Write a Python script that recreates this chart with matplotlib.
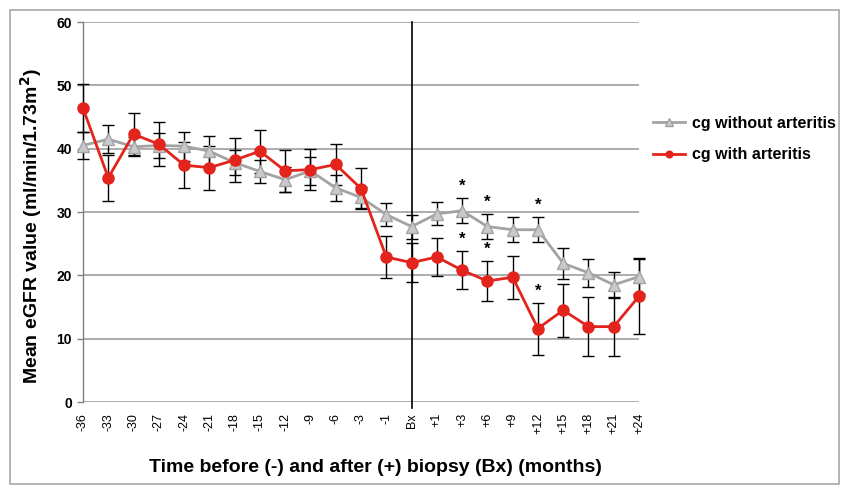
import matplotlib.pyplot as plt
import matplotlib.patches as patches
import numpy as np

plt.rcParams['font.family'] = ['Liberation Sans', 'DejaVu Sans']

# months relative to biopsy (Bx)
months = ['-36', '-33', '-30', '-27', '-24', '-21', '-18', '-15', '-12', '-9', '-6', '-3', '-1',
          'Bx', '+1', '+3', '+6', '+9', '+12', '+15', '+18', '+21', '+24']

# cg without arteritis
without_mean = [40.5, 41.5, 40.3, 40.5, 40.4, 39.6, 37.8, 36.4, 35.1, 36.5, 33.8, 32.3, 29.6,
                27.7, 29.7, 30.2, 27.7, 27.2, 27.2, 21.9, 20.4, 18.5, 19.8]
without_err = [2.1, 2.2, 1.5, 2.0, 2.3, 2.4, 2.0, 1.8, 2.0, 2.2, 2.0, 1.7, 1.8,
               1.9, 1.8, 2.0, 2.0, 2.0, 2.0, 2.4, 2.2, 2.1, 2.8]

# cg with arteritis
with_mean = [46.4, 35.4, 42.3, 40.7, 37.4, 37.0, 38.2, 39.6, 36.5, 36.7, 37.5, 33.7, 22.9,
             22.0, 22.9, 20.8, 19.1, 19.7, 11.6, 14.5, 11.9, 11.9, 16.7]
with_err = [3.8, 3.6, 3.3, 3.5, 3.6, 3.5, 3.5, 3.4, 3.3, 3.2, 3.2, 3.3, 3.3,
            3.1, 3.0, 3.0, 3.2, 3.4, 4.1, 4.2, 4.7, 4.7, 6.0]

# time points marked with *
significant = ['+3', '+6', '+12']

grey = '#A3A3A3'
red = '#E3241C'

fig = plt.figure(figsize=(8.41, 4.86), dpi=100)
ax = fig.add_axes([83 / 841, 1 - 402 / 486, 556 / 841, 380 / 486])

x = np.arange(len(months))

for mean, err in [(without_mean, without_err), (with_mean, with_err)]:
    eb = ax.errorbar(x, mean, yerr=err, fmt='none', ecolor='black',
                     elinewidth=1.0, capsize=4, capthick=1.0, zorder=3)
    for art in eb.lines[1] + eb.lines[2]:
        art.set_clip_on(False)

ax.plot(x, without_mean, color=grey, lw=2, marker='^', markersize=9,
        markerfacecolor='#C9C9C9', markeredgecolor=grey, zorder=4,
        clip_on=False, label='cg without arteritis')
ax.plot(x, with_mean, color=red, lw=2, marker='o', markersize=8,
        markerfacecolor=red, markeredgecolor=red, zorder=5,
        clip_on=False, label='cg with arteritis')

# significance stars
for m in significant:
    i = months.index(m)
    ax.annotate('*', (i, without_mean[i] + without_err[i]), xytext=(0, 3),
                textcoords='offset points', ha='center', va='bottom',
                fontsize=12, fontweight='bold')
    ax.annotate('*', (i, with_mean[i] + with_err[i]), xytext=(0, 3),
                textcoords='offset points', ha='center', va='bottom',
                fontsize=12, fontweight='bold')

# biopsy line
bx = months.index('Bx')
ax.axvline(bx, ymin=-0.017, ymax=1, color='black', lw=1.2, zorder=2, clip_on=False)

ax.set_ylim(0, 60)
ax.set_xlim(0, len(months) - 1)
ax.set_yticks(np.arange(0, 61, 10))
ax.yaxis.grid(True, color='#9E9E9E', lw=1.2)
ax.set_axisbelow(True)

ax.set_xticks(x)
ax.set_xticklabels(months, rotation=90, fontsize=9)
ax.tick_params(axis='x', length=0, pad=8)
ax.tick_params(axis='y', length=4, width=1, color='#808080', pad=4, labelsize=10)
for lbl in ax.get_yticklabels():
    lbl.set_fontweight('bold')

for s in ['top', 'right', 'bottom']:
    ax.spines[s].set_visible(False)
ax.spines['left'].set_color('#808080')
ax.spines['left'].set_linewidth(1.0)

fig.text(375 / 841, 1 - 468 / 486, 'Time before (-) and after (+) biopsy (Bx) (months)',
         ha='center', va='center', fontsize=14, fontweight='bold')
fig.text(31 / 841, 1 - 226 / 486, 'Mean eGFR value (ml/min/1.73m$^\\mathbf{2}$)',
         ha='center', va='center', rotation=90, fontsize=14, fontweight='bold')

ax.legend(loc='center left', bbox_to_anchor=(639 / 841, 1 - 139 / 486),
          bbox_transform=fig.transFigure, frameon=False,
          prop={'weight': 'bold', 'size': 11.5}, handlelength=2.0,
          handletextpad=0.4, labelspacing=1.05, markerscale=0.6)

# chart area border
fig.patches.append(patches.Rectangle((10 / 841, 2 / 486), 829 / 841, 474 / 486,
                                     transform=fig.transFigure, fill=False,
                                     edgecolor='#A8A8A8', lw=1.2))

fig.savefig('out.png', dpi=100)
